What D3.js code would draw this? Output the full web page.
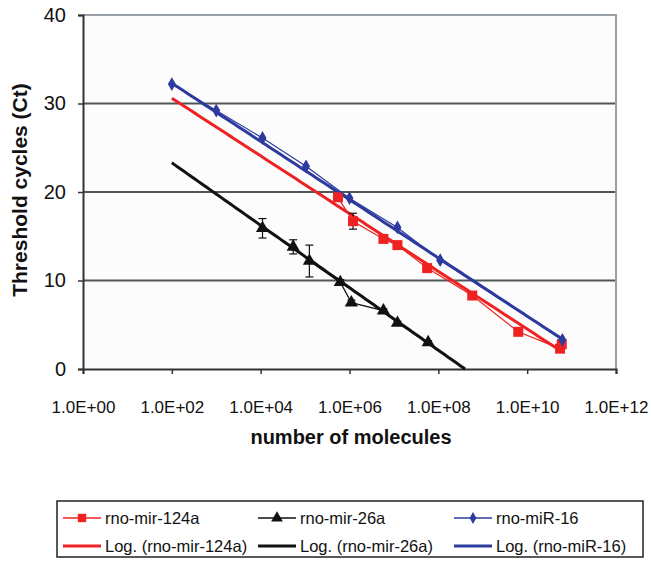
<!DOCTYPE html>
<html>
<head>
<meta charset="utf-8">
<script src="https://cdn.jsdelivr.net/npm/d3@7"></script>
<style>
  html, body { margin: 0; padding: 0; background: #ffffff; }
  svg { display: block; font-family: "Liberation Sans", Arial, sans-serif; }
</style>
</head>
<body>
<svg id="chart" width="651" height="561"></svg>
<script>
// ---------- data ----------
const xTickValues = [1e0, 1e2, 1e4, 1e6, 1e8, 1e10, 1e12];
const xTickLabels = ["1.0E+00", "1.0E+02", "1.0E+04", "1.0E+06", "1.0E+08", "1.0E+10", "1.0E+12"];
const yTickValues = [0, 10, 20, 30, 40];

// rno-mir-124a (red squares)
const mir124aX = [5.5e5, 1.2e6, 5.8e6, 1.2e7, 5.6e7, 5.8e8, 6.3e9, 5.5e10, 6.0e10];
const mir124aY = [19.4, 16.7, 14.7, 14.0, 11.4, 8.3, 4.2, 2.3, 2.8];
const mir124aErr = [0.4, 0.9, 0.4, 0.3, 0.2, 0.3, 0.3, 0.3, 0.3];

// rno-mir-26a (black triangles)
const mir26aX = [1.1e4, 5.4e4, 1.25e5, 6.2e5, 1.1e6, 5.8e6, 1.2e7, 5.9e7];
const mir26aY = [15.9, 13.8, 12.2, 9.8, 7.5, 6.6, 5.2, 3.0];
const mir26aErr = [1.1, 0.8, 1.8, 0.3, 0.3, 0.2, 0.2, 0.2];

// rno-miR-16 (blue diamonds)
const miR16X = [1e2, 1e3, 1.1e4, 1.05e5, 1.0e6, 1.2e7, 1.1e8, 6.2e10];
const miR16Y = [32.2, 29.2, 26.1, 22.9, 19.3, 16.0, 12.3, 3.3];

// logarithmic trendlines: Ct = a*ln(x) + b over [xStart, xEnd]
const trend124a = { a: -1.416, b: 37.12, xStart: 1e2, xEnd: 5.8e10 };
const trend26a  = { a: -1.533, b: 30.36, xStart: 1e2, xEnd: 4.0e8 };
const trend16   = { a: -1.429, b: 38.88, xStart: 1e2, xEnd: 6.2e10 };

const legendLabels = ["rno-mir-124a", "rno-mir-26a", "rno-miR-16",
                      "Log. (rno-mir-124a)", "Log. (rno-mir-26a)", "Log. (rno-miR-16)"];

const RED = "#ee2222", BLACK = "#111111", BLUE = "#2d3a9e";

// ---------- layout ----------
const svg = d3.select("#chart");
const pLeft = 83, pRight = 616, pTop = 15, pBottom = 369;

const x = d3.scaleLog().domain([1e0, 1e12]).range([pLeft, pRight]);
const y = d3.scaleLinear().domain([0, 40]).range([pBottom, pTop]);

// plot background
svg.append("rect").attr("x", pLeft).attr("y", pTop)
  .attr("width", pRight - pLeft).attr("height", pBottom - pTop)
  .attr("fill", "#fcfcfc");

// gridlines
svg.append("g").selectAll("line").data(yTickValues.filter(v => v > 0 && v < 40)).join("line")
  .attr("x1", pLeft).attr("x2", pRight)
  .attr("y1", d => y(d)).attr("y2", d => y(d))
  .attr("stroke", "#4e5656").attr("stroke-width", 2);

// top & right border
svg.append("path")
  .attr("d", `M${pLeft},${y(40)}H${pRight}V${pBottom}`)
  .attr("fill", "none").attr("stroke", "#9aa0a8").attr("stroke-width", 2);

// axes
const xAxis = d3.axisBottom(x).tickValues(xTickValues)
  .tickFormat((d, i) => xTickLabels[i]).tickSizeOuter(0).tickSize(5).tickPadding(18);
const gx = svg.append("g").attr("transform", `translate(0,${pBottom})`).call(xAxis);
gx.select(".domain").attr("stroke", "#333").attr("stroke-width", 2);
gx.selectAll(".tick line").attr("stroke", "#333").attr("stroke-width", 1.5);
gx.selectAll(".tick text").attr("font-size", 17).attr("fill", "#111")
  .attr("font-family", "'Liberation Sans', Arial, sans-serif").attr("dy", "1.25em");

const yAxis = d3.axisLeft(y).tickValues(yTickValues).tickSizeOuter(0).tickSize(5).tickPadding(12);
const gy = svg.append("g").attr("transform", `translate(${pLeft},0)`).call(yAxis);
gy.select(".domain").attr("stroke", "#333").attr("stroke-width", 2);
gy.selectAll(".tick line").attr("stroke", "#333").attr("stroke-width", 1.5);
gy.selectAll(".tick text").attr("font-size", 20).attr("fill", "#111")
  .attr("font-family", "'Liberation Sans', Arial, sans-serif");

// axis titles
svg.append("text").attr("x", 351).attr("y", 444)
  .attr("text-anchor", "middle").attr("font-size", 20).attr("font-weight", "bold")
  .attr("fill", "#111").text("number of molecules");
svg.append("text").attr("transform", "translate(27,190) rotate(-90)")
  .attr("text-anchor", "middle").attr("font-size", 21).attr("font-weight", "bold")
  .attr("fill", "#111").text("Threshold cycles (Ct)");

// ---------- trendlines ----------
function trendPoints(t) {
  const xs = d3.range(0, 101).map(i => Math.exp(Math.log(t.xStart) + (Math.log(t.xEnd) - Math.log(t.xStart)) * i / 100));
  return xs.map(v => [v, Math.max(0, t.a * Math.log(v) + t.b)]);
}
const line = d3.line().x(d => x(d[0])).y(d => y(d[1]));

[[trend124a, RED], [trend26a, BLACK], [trend16, BLUE]].forEach(([t, c]) => {
  svg.append("path").attr("d", line(trendPoints(t)))
    .attr("fill", "none").attr("stroke", c).attr("stroke-width", 3);
});

// ---------- series ----------
function drawSeries(xs, ys, errs, color, shape, size) {
  const pts = xs.map((v, i) => [v, ys[i]]);
  svg.append("path").attr("d", line(pts))
    .attr("fill", "none").attr("stroke", color).attr("stroke-width", 1.2);
  if (errs) {
    const g = svg.append("g").attr("stroke", BLACK).attr("stroke-width", 1.2);
    pts.forEach((p, i) => {
      const cx = x(p[0]), y1 = y(p[1] + errs[i]), y2 = y(p[1] - errs[i]);
      g.append("line").attr("x1", cx).attr("x2", cx).attr("y1", y1).attr("y2", y2);
      g.append("line").attr("x1", cx - 4).attr("x2", cx + 4).attr("y1", y1).attr("y2", y1);
      g.append("line").attr("x1", cx - 4).attr("x2", cx + 4).attr("y1", y2).attr("y2", y2);
    });
  }
  svg.append("g").selectAll("path").data(pts).join("path")
    .attr("transform", d => `translate(${x(d[0])},${y(d[1])})`)
    .attr("d", d3.symbol().type(shape).size(size))
    .attr("fill", color);
}

drawSeries(mir124aX, mir124aY, mir124aErr, RED, d3.symbolSquare, 100);
drawSeries(mir26aX, mir26aY, mir26aErr, BLACK, d3.symbolTriangle, 75);
drawSeries(miR16X, miR16Y, null, BLUE, d3.symbolDiamond, 55);

// ---------- legend ----------
const lg = svg.append("g");
lg.append("rect").attr("x", 57).attr("y", 501).attr("width", 586).attr("height", 56)
  .attr("fill", "#fff").attr("stroke", "#222").attr("stroke-width", 1.5);

const legendCols = [63, 258, 454];
const legendRows = [518, 546];
const legendColors = [RED, BLACK, BLUE];
const legendShapes = [d3.symbolSquare, d3.symbolTriangle, d3.symbolDiamond];
const legendSizes = [70, 60, 40];

legendLabels.forEach((lab, i) => {
  const col = i % 3, row = Math.floor(i / 3);
  const lx = legendCols[col], ly = legendRows[row];
  const c = legendColors[col];
  lg.append("line").attr("x1", lx).attr("x2", lx + 38).attr("y1", ly).attr("y2", ly)
    .attr("stroke", c).attr("stroke-width", row === 0 ? 1.5 : 3);
  if (row === 0) {
    lg.append("path").attr("transform", `translate(${lx + 19},${ly})`)
      .attr("d", d3.symbol().type(legendShapes[col]).size(legendSizes[col]))
      .attr("fill", c);
  }
  lg.append("text").attr("x", lx + 42).attr("y", ly).attr("dy", "0.35em")
    .attr("font-size", 16.5).attr("fill", "#111").text(lab);
});
</script>
</body>
</html>
